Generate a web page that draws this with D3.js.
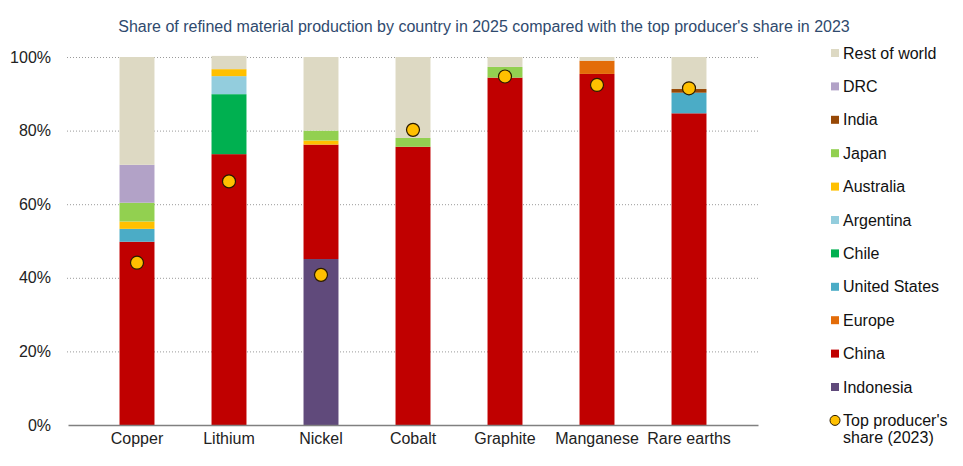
<!DOCTYPE html>
<html>
<head>
<meta charset="utf-8">
<script src="https://cdn.jsdelivr.net/npm/d3@7"></script>
<style>
  body { margin: 0; background: #fff; }
  svg text { font-family: "Liberation Sans", Arial, sans-serif; }
</style>
</head>
<body>
<svg id="chart" width="963" height="466"></svg>
<script>
// minerals on the x axis
const minerals = ["Copper", "Lithium", "Nickel", "Cobalt", "Graphite", "Manganese", "Rare earths"]

// stack order, bottom to top
const countries = ["Indonesia", "China", "Europe", "United States", "Chile", "Argentina",
  "Australia", "Japan", "India", "DRC", "Rest of world"]

// share (%) of refined production in 2025, one array per country, by mineral
const indonesia    = [0,    0,    45.1, 0,    0,    0,    0]
const china        = [49.8, 73.6, 31.1, 75.6, 94.4, 95.4, 84.7]
const europe       = [0,    0,    0,    0,    0,    3.6,  0]
const unitedStates = [3.5,  0,    0,    0,    0,    0,    5.6]
const chile        = [0,    16.3, 0,    0,    0,    0,    0]
const argentina    = [0,    4.9,  0,    0,    0,    0,    0]
const australia    = [2.0,  1.9,  1.1,  0,    0,    0,    0]
const japan        = [5.1,  0,    2.7,  2.4,  2.9,  0,    0]
const india        = [0,    0,    0,    0,    0,    0,    1.0]
const drc          = [10.3, 0,    0,    0,    0,    0,    0]
const restOfWorld  = [29.3, 3.6,  20.0, 22.0, 2.7,  1.0,  8.7]

// top producer's share in 2023 (%)
const topShare2023 = [44.1, 66.2, 40.8, 80.2, 94.7, 92.4, 91.5]

const yTicks = [0, 20, 40, 60, 80, 100]

const seriesValues = {
  "Indonesia": indonesia, "China": china, "Europe": europe, "United States": unitedStates,
  "Chile": chile, "Argentina": argentina, "Australia": australia, "Japan": japan,
  "India": india, "DRC": drc, "Rest of world": restOfWorld
}

const colors = {
  "Indonesia": "#604a7b", "China": "#c00000", "Europe": "#e36c09", "United States": "#4bacc6",
  "Chile": "#00b050", "Argentina": "#93cddd", "Australia": "#ffc000", "Japan": "#92d050",
  "India": "#974806", "DRC": "#b2a2c7", "Rest of world": "#ddd9c3"
}

const rows = minerals.map((m, i) => {
  const r = {mineral: m}
  countries.forEach(c => { r[c] = seriesValues[c][i] })
  return r
})

const svg = d3.select("#chart")
const margins = {left: 68, right: 205, top: 57, bottom: 41}
const width = 963, height = 466
const fontSize = 16

const xScale = d3.scaleBand()
  .domain(minerals)
  .range([margins.left, width - margins.right])
  .paddingInner(0.62)
  .paddingOuter(0.56)

const yScale = d3.scaleLinear()
  .domain([0, 100])
  .range([height - margins.bottom, margins.top])

// title
svg.append("text")
  .attr("x", 484)
  .attr("y", 32)
  .attr("text-anchor", "middle")
  .attr("font-size", 16)
  .attr("fill", "#2f4a6e")
  .text("Share of refined material production by country in 2025 compared with the top producer's share in 2023")

// gridlines
svg.append("g")
  .selectAll("line")
  .data(yTicks.filter(d => d > 0))
  .join("line")
  .attr("x1", margins.left - 1)
  .attr("x2", width - margins.right)
  .attr("y1", d => yScale(d) + 0.5)
  .attr("y2", d => yScale(d) + 0.5)
  .attr("stroke", "#9a9a9a")
  .attr("stroke-width", 1)
  .attr("stroke-dasharray", "1,2")

// y axis labels
svg.append("g")
  .attr("transform", `translate(${margins.left - 14},0)`)
  .call(d3.axisLeft(yScale).tickValues(yTicks).tickFormat(d => d + "%").tickSize(0))
  .call(g => g.select(".domain").remove())
  .call(g => g.selectAll("text")
    .attr("font-size", fontSize)
    .attr("fill", "#222")
    .attr("font-family", "Liberation Sans, Arial, sans-serif"))

// stacked bars
const series = d3.stack().keys(countries)(rows)

svg.append("g")
  .selectAll("g")
  .data(series, d => d.key)
  .join("g")
  .attr("fill", d => colors[d.key])
  .selectAll("rect")
  .data(d => d.filter(p => p[1] - p[0] > 0))
  .join("rect")
  .attr("x", d => xScale(d.data.mineral))
  .attr("width", xScale.bandwidth())
  .attr("y", d => yScale(d[1]))
  .attr("height", d => yScale(d[0]) - yScale(d[1]))

// x axis
svg.append("g")
  .attr("transform", `translate(0,${yScale(0)})`)
  .call(d3.axisBottom(xScale).tickSize(0).tickPadding(8))
  .call(g => g.select(".domain")
    .attr("stroke", "#808080")
    .attr("stroke-width", 1.5))
  .call(g => g.selectAll("text")
    .attr("font-size", fontSize)
    .attr("fill", "#222")
    .attr("font-family", "Liberation Sans, Arial, sans-serif"))

// 2023 top producer dots
svg.append("g")
  .selectAll("circle")
  .data(minerals.map((m, i) => ({mineral: m, value: topShare2023[i]})))
  .join("circle")
  .attr("cx", d => xScale(d.mineral) + xScale.bandwidth() / 2)
  .attr("cy", d => yScale(d.value))
  .attr("r", 6.5)
  .attr("fill", "#ffc000")
  .attr("stroke", "#2a1a00")
  .attr("stroke-width", 1.2)

// legend
const legendItems = countries.slice().reverse()
const legend = svg.append("g").attr("transform", "translate(831,53)")
const rowH = 33.4

legend.selectAll("rect")
  .data(legendItems)
  .join("rect")
  .attr("x", 0)
  .attr("y", (d, i) => i * rowH - 4)
  .attr("width", 8)
  .attr("height", 8)
  .attr("fill", d => colors[d])

legend.selectAll("text.item")
  .data(legendItems)
  .join("text")
  .attr("class", "item")
  .attr("x", 12)
  .attr("y", (d, i) => i * rowH + 5.5)
  .attr("font-size", fontSize)
  .attr("fill", "#111")
  .text(d => d)

const dotRow = legendItems.length * rowH
legend.append("circle")
  .attr("cx", 4)
  .attr("cy", dotRow)
  .attr("r", 5)
  .attr("fill", "#ffc000")
  .attr("stroke", "#2a1a00")
  .attr("stroke-width", 1)

legend.append("text")
  .attr("x", 12)
  .attr("y", dotRow + 5.5)
  .attr("font-size", fontSize)
  .attr("fill", "#111")
  .call(t => t.append("tspan").text("Top producer's"))
  .call(t => t.append("tspan").attr("x", 12).attr("dy", 17.5).text("share (2023)"))
</script>
</body>
</html>
